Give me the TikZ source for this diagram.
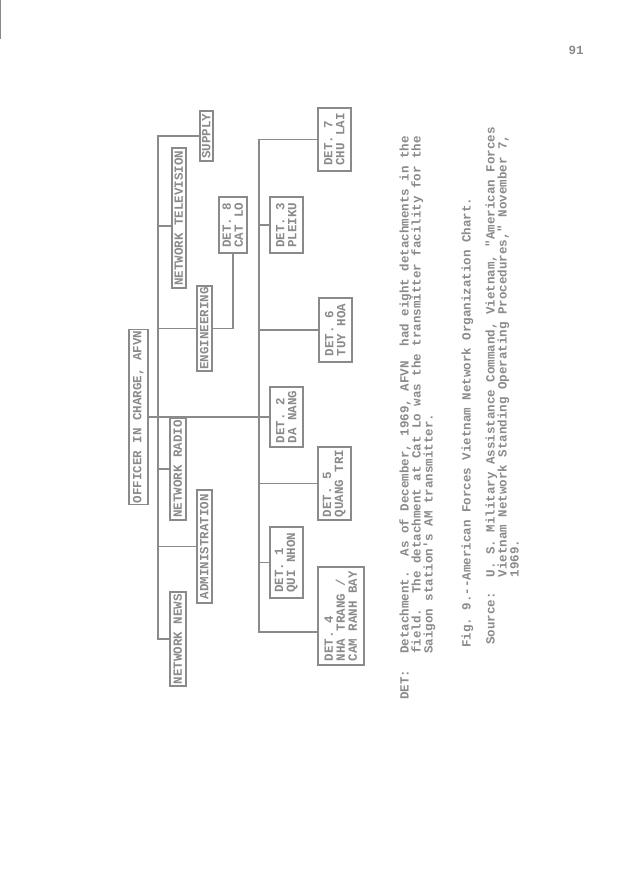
\documentclass[tikz,border=0pt]{standalone}
\usepackage{fontspec}
\newfontfamily\tw{Liberation Mono}[Ligatures=TeXOff]
\definecolor{ink}{RGB}{138,138,138}

\begin{document}
\frenchspacing
\begin{tikzpicture}[x=1pt,y=-1pt,
every node/.style={text=ink, font={\tw\bfseries\fontsize{12.5}{12}\selectfont}},
box/.style={draw=ink, line width=1.5pt, rotate=90, anchor=north, inner sep=1pt, align=left},
staffbox/.style={box, minimum height=15pt},
detbox/.style={box, minimum height=33pt},
textline/.style={rotate=90, anchor=base west, inner sep=0pt},
link/.style={draw=ink, line width=1.7pt}]
    \useasboundingbox (0,0) rectangle (637,877);
    \draw [ink, line width=0.8pt] (0.5,0) -- (0.5,39);
    \node (pagenum) at (576,50) {91};

    \node [box, minimum height=19pt, minimum width=174pt] (oic) at (128,417) {OFFICER IN CHARGE, AFVN};

    \node [staffbox, minimum height=13pt, minimum width=50pt] (supply) at (199,136) {SUPPLY};
    \node [staffbox, minimum height=14pt, minimum width=140pt] (nettv) at (171,218) {NETWORK TELEVISION};
    \node [staffbox, minimum width=85pt] (engin) at (196,328.5) {ENGINEERING};
    \node [staffbox, minimum height=16pt, minimum width=102pt] (netradio) at (169,469) {NETWORK RADIO};
    \node [staffbox, minimum width=113pt] (admin) at (196,546.5) {ADMINISTRATION};
    \node [staffbox, minimum height=16pt, minimum width=94pt] (netnews) at (169,639) {NETWORK NEWS};

    \node [detbox, minimum height=28pt, minimum width=56pt] (det8) at (218,225) {DET. 8\\CAT LO};
    \node [detbox, minimum width=56pt] (det3) at (269,225) {DET. 3\\PLEIKU};
    \node [detbox, minimum width=60pt] (det2) at (269,417) {DET. 2\\DA NANG};
    \node [detbox, minimum width=71pt] (det1) at (269,562.5) {DET. 1\\QUI NHON};
    \node [detbox, minimum width=63pt] (det7) at (317,139.5) {DET. 7\\CHU LAI};
    \node [detbox, minimum width=64pt] (det6) at (318,330) {DET. 6\\TUY HOA};
    \node [detbox, minimum width=73pt] (det5) at (317,483.5) {DET. 5\\QUANG TRI};
    \node [detbox, minimum height=46pt, minimum width=98pt] (det4) at (317,616) {DET. 4\\NHA TRANG /\\CAM RANH BAY};

    \coordinate (spine) at (158,0);
    \coordinate (trunk) at (259,0);
    \coordinate (tvhook) at ([yshift=-8pt]nettv.north);
    \coordinate (det4hook) at ([yshift=-16pt]det4.north);

    \draw [link] (supply.north) -| (spine |- netnews.north) -- (netnews.north);
    \draw [link] (tvhook) -- (tvhook -| spine);
    \foreach \n in {engin,netradio,admin}
        \draw [link] (\n.north) -- (\n.north -| spine);
    \draw [link] (engin.south) -| (det8.west);
    \draw [link] (oic.south) -- (det2.north);
    \draw [link] (det7.north) -| (trunk |- det4hook) -- (det4hook);
    \foreach \n in {det3,det6,det5,det1}
        \draw [link] (\n.north) -- (\n.north -| trunk);

    \node [textline] (detlabel) at (408.5,700) {DET:};
    \node [textline] (note1) at (408.5,654) {Detachment.~ As of December, 1969, AFVN~ had eight detachments in the};
    \node [textline] (note2) at (420.5,654) {field.~ The detachment at Cat Lo was the transmitter facility for the};
    \node [textline] (note3) at (432.5,654) {Saigon station's AM transmitter.};
    \node [textline] (caption) at (470.5,648) {Fig. 9.--American Forces Vietnam Network Organization Chart.};
    \node [textline] (source1) at (494.5,645) {Source:~ U. S. Military Assistance Command, Vietnam, "American Forces};
    \node [textline] (source2) at (506.5,577.5) {Vietnam Network Standing Operating Procedures," November 7,};
    \node [textline] (source3) at (518.5,577.5) {1969.};
\end{tikzpicture}
\end{document}
